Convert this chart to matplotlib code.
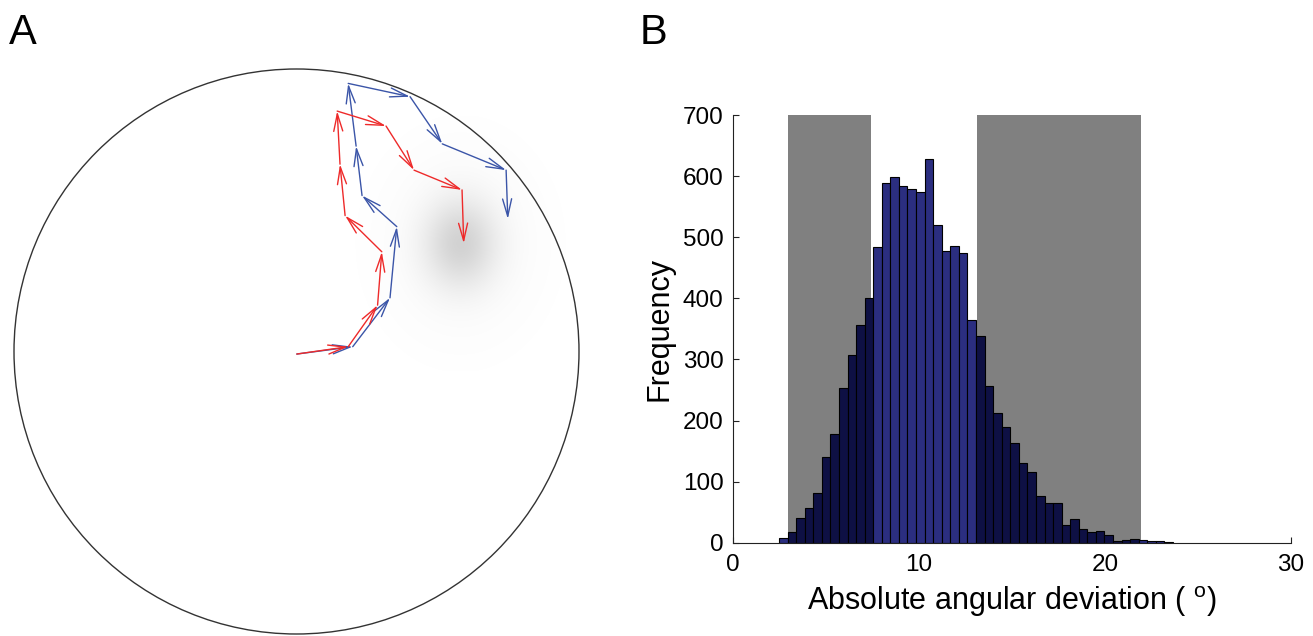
import matplotlib
matplotlib.use('Agg')
import matplotlib.pyplot as plt
from matplotlib.patches import Circle
import numpy as np

plt.rcParams['font.family'] = ['Liberation Sans', 'DejaVu Sans']
plt.rcParams['mathtext.fontset'] = 'custom'
plt.rcParams['mathtext.rm'] = 'Liberation Sans'
plt.rcParams['mathtext.it'] = 'Liberation Sans'

# panel A: two trajectories in unit-circle coordinates
red_x = [0.001, 0.183, 0.287, 0.302, 0.172, 0.154, 0.144, 0.317, 0.416, 0.586, 0.592]
red_y = [-0.009, 0.017, 0.164, 0.353, 0.481, 0.663, 0.851, 0.798, 0.642, 0.572, 0.383]
blue_x = [0.001, 0.199, 0.331, 0.355, 0.232, 0.211, 0.183, 0.402, 0.516, 0.742, 0.748]
blue_y = [-0.009, 0.017, 0.190, 0.442, 0.552, 0.727, 0.949, 0.902, 0.735, 0.642, 0.469]
# grey end-point cloud: centre and spread
cloud_center = (0.579, 0.38)
cloud_sigma = (0.088, 0.108)

# panel B: histogram
bin_start = 2.46
bin_width = 0.461
counts = [8, 17, 40, 57, 82, 141, 178, 253, 308, 357, 400, 484, 588, 598, 584,
          579, 574, 628, 520, 477, 485, 474, 364, 338, 256, 213, 189, 163, 131, 116,
          76, 65, 65, 29, 38, 23, 17, 19, 13, 2, 4, 6, 5, 3, 2, 1]
grey_spans = [(2.93, 7.40), (13.12, 21.96)]

fig = plt.figure(figsize=(13.13, 6.36), dpi=100)

# ---------------- A ----------------
axA = fig.add_axes([14/1313, 2/636, 565/1313, 565/636])
axA.axis('off')
axA.add_patch(Circle((0, 0), 1.0, fill=False, ec='#333333', lw=1.0, clip_on=False))

gx = np.linspace(cloud_center[0] - 0.45, cloud_center[0] + 0.45, 300)
gy = np.linspace(cloud_center[1] - 0.45, cloud_center[1] + 0.45, 300)
GX, GY = np.meshgrid(gx, gy)
d2 = ((GX - cloud_center[0]) / cloud_sigma[0])**2 + ((GY - cloud_center[1]) / cloud_sigma[1])**2
alpha = 0.30 * np.exp(-d2 / 2) + 0.05 * np.exp(-d2 / 7)
img = np.zeros((300, 300, 4))
img[..., :3] = 0.5
img[..., 3] = alpha
axA.imshow(img, extent=[gx[0], gx[-1], gy[0], gy[-1]], origin='lower',
           interpolation='bilinear', zorder=1, aspect='auto')
axA.set_xlim(-1, 1)
axA.set_ylim(-1, 1)

def draw_path(xs, ys, col):
    for i in range(len(xs) - 1):
        axA.annotate('', xy=(xs[i+1], ys[i+1]), xytext=(xs[i], ys[i]),
                     arrowprops=dict(arrowstyle='->,head_length=0.5,head_width=0.13',
                                     color=col, lw=1.0, shrinkA=0, shrinkB=0,
                                     mutation_scale=25), zorder=3)

draw_path(blue_x, blue_y, '#3b55a8')
draw_path(red_x, red_y, '#ee2a2a')

# ---------------- B ----------------
axB = fig.add_axes([733.3/1313, 93.3/636, 557.4/1313, 427.7/636])
for a, b in grey_spans:
    axB.axvspan(a, b, color='#808080', lw=0, zorder=0)
lefts = bin_start + bin_width * np.arange(len(counts))
centers = lefts + bin_width / 2
cols = []
for c in centers:
    inside = any(a <= c <= b for a, b in grey_spans)
    cols.append('#0e1044' if inside else '#2b2e80')
axB.bar(lefts, counts, width=bin_width, align='edge', color=cols,
        edgecolor='black', linewidth=0.8, zorder=2)
axB.set_xlim(0, 30)
axB.set_ylim(0, 700)
axB.set_xticks([0, 10, 20, 30])
axB.set_yticks(range(0, 701, 100))
axB.spines['top'].set_visible(False)
axB.spines['right'].set_visible(False)
for s in ['left', 'bottom']:
    axB.spines[s].set_color('#222222')
    axB.spines[s].set_linewidth(0.8)
axB.tick_params(direction='in', length=4, width=0.8, labelsize=17.5, colors='#222222',
                labelcolor='black')
axB.tick_params(axis='x', pad=8)
axB.tick_params(axis='y', pad=7)
axB.set_xlabel('Absolute angular deviation ( $^{\\mathrm{o}}$)', fontsize=22, labelpad=6)
axB.set_ylabel('Frequency', fontsize=22, labelpad=6)

fig.text(9/1313, 1 - 44/636, 'A', fontsize=30, va='baseline', ha='left')
fig.text(640/1313, 1 - 44/636, 'B', fontsize=30, va='baseline', ha='left')

fig.savefig('out.png', dpi=100)
